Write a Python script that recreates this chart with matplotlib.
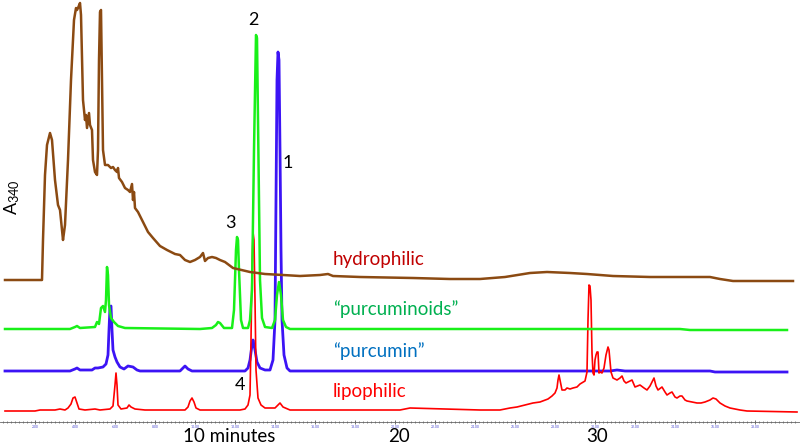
import numpy as np
import matplotlib
matplotlib.use("Agg")
import matplotlib.pyplot as plt

plt.rcParams['font.family'] = ['Lato', 'DejaVu Sans']
plt.rcParams['mathtext.default'] = 'regular'

# retention time (minutes) and A340 signal above each trace's own baseline
hydro_t = [0.5, 2.35, 2.4, 2.5, 2.6, 2.75, 2.85, 3.0, 3.15, 3.25,
           3.35, 3.4, 3.5, 3.65, 3.8, 3.95, 4.05, 4.1, 4.15, 4.25,
           4.3, 4.4, 4.5, 4.55, 4.6, 4.7, 4.75, 4.85, 4.9, 5.0,
           5.1, 5.15, 5.2, 5.25, 5.3, 5.35, 5.4, 5.5, 5.65, 5.8,
           5.9, 6.0, 6.1, 6.15, 6.2, 6.35, 6.5, 6.65, 6.75, 6.85,
           6.9, 6.95, 7.0, 7.15, 7.4, 7.65, 7.9, 8.25, 8.6, 9.0,
           9.25, 9.5, 9.75, 10.0, 10.25, 10.4, 10.5, 10.65, 10.85, 11.05,
           11.25, 11.5, 11.9, 12.75, 13.5, 14.4, 15.25, 16.25, 16.65, 16.9,
           18.25, 20.9, 22.75, 24.25, 25.5, 26.75, 27.6, 28.75, 29.6, 30.9,
           32.75, 35.75, 36.25, 36.9, 39.9]
hydro_a = [0, 0, 40, 105, 135, 147, 140, 100, 75, 70,
           50, 40, 55, 120, 200, 260, 272, 270, 272, 277,
           265, 180, 160, 165, 152, 167, 155, 150, 120, 108,
           105, 130, 220, 268, 270, 200, 130, 115, 115, 112,
           113, 110, 108, 112, 102, 98, 92, 90, 88, 96,
           80, 88, 72, 68, 58, 48, 42, 34, 30, 26,
           25, 20, 18, 20, 23, 27, 19, 22, 23, 22,
           20, 18, 12, 8, 6, 5, 4, 5, 6, 4,
           3, 2, 1, 1, 3, 7, 8, 7, 6, 4,
           3, 3, 1, -1, -1]

purcuminoids_t = [0.5, 3.75, 4.0, 4.1, 4.25, 5.0, 5.1, 5.2, 5.3, 5.4,
                  5.5, 5.55, 5.6, 5.65, 5.7, 5.8, 5.95, 6.15, 6.5, 10.25,
                  10.85, 11.05, 11.15, 11.25, 11.45, 11.85, 11.95, 12.05, 12.1, 12.15,
                  12.2, 12.3, 12.4, 12.65, 12.75, 12.85, 12.95, 13.05, 13.1, 13.15,
                  13.25, 13.35, 13.5, 13.85, 14.0, 14.1, 14.2, 14.3, 14.4, 14.55,
                  14.75, 34.25, 34.75, 39.6]
purcuminoids_a = [0, 0, 2, 3, 1, 2, 7, 5, 21, 23,
                  17, 29, 62, 54, 24, 11, 7, 3, 1, 0,
                  1, 4, 7, 6, 1, 1, 19, 79, 92, 89,
                  59, 9, 1, 1, 9, 39, 179, 294, 291, 209,
                  49, 11, 2, 1, 9, 34, 47, 34, 9, 2,
                  0, 0, -1, -1]

purcumin_t = [0.5, 3.75, 4.0, 4.1, 4.25, 4.85, 5.0, 5.15, 5.4, 5.55,
              5.65, 5.7, 5.75, 5.8, 5.85, 5.9, 6.0, 6.1, 6.25, 6.45,
              6.65, 6.9, 7.1, 7.25, 9.25, 9.4, 9.5, 9.65, 9.85, 12.5,
              12.65, 12.75, 12.85, 12.9, 13.0, 13.1, 13.25, 13.5, 13.75, 13.9,
              14.0, 14.05, 14.1, 14.15, 14.2, 14.25, 14.3, 14.35, 14.45, 14.6,
              14.75, 30.75, 31.1, 31.5, 35.75, 36.0, 39.6]
purcumin_a = [0, 0, 2, 3, 1, 1, 3, 3, 4, 7,
              16, 41, 64, 65, 41, 21, 14, 9, 4, 2,
              5, 4, 1, 0, 0, 3, 5, 2, 0, 0,
              3, 11, 26, 31, 21, 9, 3, 1, 1, 11,
              51, 171, 291, 319, 311, 221, 121, 51, 16, 3,
              0, 0, 1, 0, 0, -1, -1]

lipo_t = [0.5, 2.0, 2.25, 3.0, 3.25, 3.5, 3.65, 3.8, 3.9, 4.0,
          4.1, 4.2, 4.5, 5.0, 5.25, 5.75, 5.9, 6.0, 6.05, 6.1,
          6.15, 6.3, 6.6, 6.7, 6.8, 7.0, 7.5, 9.5, 9.65, 9.75,
          9.85, 9.95, 10.05, 10.25, 12.25, 12.5, 12.65, 12.75, 12.8, 12.85,
          12.9, 12.95, 13.0, 13.05, 13.15, 13.3, 13.5, 14.0, 14.15, 14.25,
          14.4, 14.75, 16.75, 20.25, 20.75, 24.25, 25.25, 25.75, 26.1, 26.5,
          26.9, 27.25, 27.65, 27.85, 28.0, 28.1, 28.15, 28.2, 28.25, 28.35,
          28.5, 28.6, 28.75, 28.9, 29.1, 29.25, 29.5, 29.6, 29.65, 29.7,
          29.75, 29.8, 29.85, 29.9, 29.95, 30.0, 30.05, 30.1, 30.15, 30.2,
          30.25, 30.35, 30.45, 30.55, 30.65, 30.7, 30.8, 30.9, 31.1, 31.25,
          31.35, 31.45, 31.55, 31.75, 31.85, 32.0, 32.25, 32.45, 32.6, 32.75,
          32.85, 32.95, 33.05, 33.15, 33.35, 33.5, 33.6, 33.75, 33.85, 34.0,
          34.1, 34.25, 34.35, 34.5, 34.6, 34.85, 35.1, 35.3, 35.5, 35.75,
          35.9, 36.05, 36.25, 36.5, 36.75, 37.25, 37.6, 40.1]
lipo_a = [0, 0, 1, 1, 2, 1, 3, 7, 13, 14,
          8, 2, 1, 2, 1, 2, 5, 26, 38, 26,
          6, 2, 3, 6, 4, 2, 1, 1, 4, 10,
          13, 9, 3, 1, 1, 2, 6, 16, 71, 141,
          179, 171, 111, 41, 13, 6, 3, 3, 6, 8,
          4, 1, 1, 1, 3, 1, 1, 3, 4, 6,
          8, 9, 12, 15, 18, 23, 31, 36, 31, 21,
          21, 23, 22, 23, 24, 27, 30, 39, 91, 126,
          125, 111, 58, 38, 36, 51, 56, 59, 59, 38,
          39, 38, 43, 56, 64, 61, 39, 33, 31, 33,
          35, 30, 28, 30, 31, 24, 26, 23, 21, 25,
          29, 33, 25, 21, 24, 19, 16, 18, 19, 14,
          13, 15, 15, 11, 10, 9, 8, 8, 9, 11,
          13, 12, 8, 5, 3, 1, 0, -1]

trace_names = ["hydrophilic", "\u201cpurcuminoids\u201d", "\u201cpurcumin\u201d", "lipophilic"]
peak_labels = ["1", "2", "3", "4"]
peak_times = [14.65, 12.9, 11.75, 12.25]
tick_labels = ["%.2f" % v for v in range(2, 40, 2)]

# layout / style
offsets = [142, 93, 51, 11]
line_colors = ['#8b4a12', '#19f019', '#3c14f5', '#ff0000']
text_colors = ['#c00000', '#00b050', '#0070c0', '#ff0000']
widths = [1.8, 1.8, 2.0, 1.2]
zorders = [5, 4, 2, 3]
peak_y = [259, 402, 199, 37]

fig = plt.figure(figsize=(8, 4.46), dpi=100)
ax = fig.add_axes([0, 24 / 446, 1, 422 / 446])

series = [(hydro_t, hydro_a), (purcuminoids_t, purcuminoids_a),
          (purcumin_t, purcumin_a), (lipo_t, lipo_a)]
for i, (t, a) in enumerate(series):
    ax.plot(t, np.array(a) + offsets[i], color=line_colors[i], lw=widths[i],
            zorder=zorders[i], solid_joinstyle='round')
    ax.text(16.9, offsets[i] + 20, trace_names[i], color=text_colors[i],
            fontsize=13.5, ha='left', va='center')

for lab, pt, py in zip(peak_labels, peak_times, peak_y):
    ax.text(pt, py, lab, fontsize=13, ha='center', va='center', color='black')

ax.text(0.85, 225, "A$_{340}$", rotation=90, fontsize=13, ha='center', va='center')

ax.set_xlim(0.25, 40.25)
ax.set_ylim(0, 422)
for s in ['top', 'right', 'left']:
    ax.spines[s].set_visible(False)
ax.spines['bottom'].set_color('#666666')
ax.spines['bottom'].set_linewidth(0.6)
ax.set_yticks([])
ax.set_xticks(np.arange(2, 40, 2))
ax.set_xticklabels(tick_labels, fontsize=2.5, color='#5050d0')
ax.set_xticks(np.arange(0.4, 40.2, 0.2), minor=True)
ax.tick_params(axis='x', which='major', direction='inout', length=3, width=0.6,
               color='#555555', pad=1)
ax.tick_params(axis='x', which='minor', direction='inout', length=2, width=0.5,
               color='#555555')

ax.text(9.4, -15, "10 minutes", fontsize=13.5, ha='left', va='center', clip_on=False)
ax.text(20.2, -15, "20", fontsize=13.5, ha='center', va='center', clip_on=False)
ax.text(30.1, -15, "30", fontsize=13.5, ha='center', va='center', clip_on=False)

fig.savefig("out.png", dpi=100)
